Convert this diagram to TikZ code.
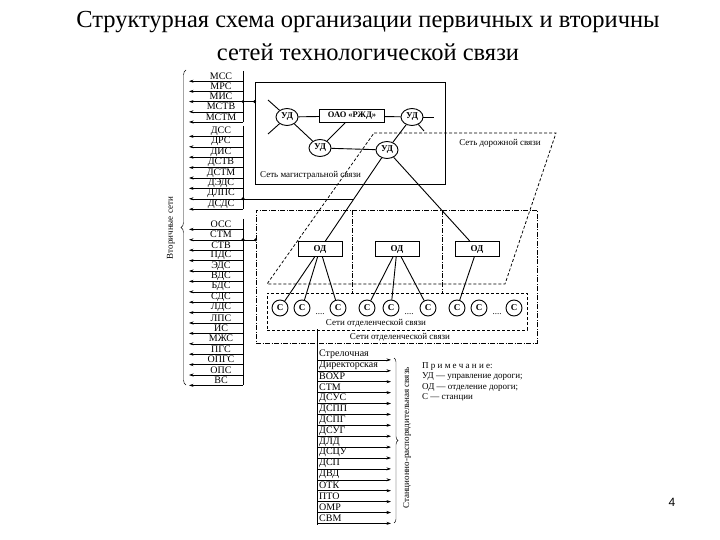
\documentclass[tikz,border=0pt]{standalone}
\usepackage{fontspec}
\setmainfont{Liberation Serif}
\newfontfamily\pgsans{Liberation Sans}
\usetikzlibrary{shapes.geometric,arrows.meta,decorations.pathreplacing,calc}
\begin{document}
\begin{tikzpicture}[x=1pt,y=-1pt,
  every node/.style={inner sep=0pt},
  thk/.style={line width=0.9pt},
  thn/.style={line width=0.55pt},
  arrl/.style={line width=0.55pt,-{Stealth[length=4.5pt,width=3pt]}},
  ud/.style={draw,ellipse,line width=0.9pt,minimum width=22pt,minimum height=17pt,font=\fontsize{9}{9}\selectfont\bfseries},
  st/.style={draw,circle,line width=0.9pt,minimum size=16pt,font=\fontsize{9}{9}\selectfont\bfseries},
  od/.style={draw,rectangle,line width=0.9pt,minimum width=44pt,minimum height=15pt,font=\fontsize{9}{9}\selectfont\bfseries},
  listtxt/.style={font=\fontsize{10}{10}\selectfont},
  lbl/.style={font=\fontsize{9}{9}\selectfont},
  dashd/.style={line width=0.75pt,dash pattern=on 3pt off 2pt},
  dashdot/.style={line width=0.75pt,dash pattern=on 5pt off 1.5pt on 1pt off 1.5pt}
]
\useasboundingbox (0,0) rectangle (720,540);

% title
\node[font=\fontsize{24.5}{24.5}\selectfont] (t1) at (368,22) {Структурная схема организации первичных и вторичны};
\node[font=\fontsize{24.5}{24.5}\selectfont] (t2) at (368,52) {сетей технологической связи};

% left lists
\foreach \lab [count=\i] in {МСС,МРС,МИС,МСТВ,МСТМ} {
  \pgfmathsetmacro\yb{71+10.2*\i}
  \node[listtxt] (ma\i) at (221,\yb-5.1) {\lab};
  \coordinate (mar\i) at (243,\yb);
  \coordinate (mal\i) at (189,\yb);
  \draw[arrl] (mar\i) -- (mal\i);
}
\draw[thn] (243,71) -- (243,122);
\foreach \lab [count=\i] in {ДСС,ДРС,ДИС,ДСТВ,ДСТМ,ДЭДС,ДЛПС,ДСДС} {
  \pgfmathsetmacro\yb{126+10.4*\i}
  \node[listtxt] (da\i) at (221,\yb-5.2) {\lab};
  \coordinate (dar\i) at (243,\yb);
  \coordinate (dal\i) at (189,\yb);
  \draw[arrl] (dar\i) -- (dal\i);
}
\draw[thn] (243,126) -- (243,209.2);
\foreach \lab [count=\i] in {ОСС,СТМ,СТВ,ПДС,ЭДС,ВДС,БДС,СДС,ЛДС,ЛПС,ИС,МЖС,ПГС,ОПГС,ОПС,ВС} {
  \pgfmathsetmacro\yb{219+10.4*\i}
  \node[listtxt] (oa\i) at (221,\yb-5.2) {\lab};
  \coordinate (oar\i) at (243,\yb);
  \coordinate (oal\i) at (189,\yb);
  \draw[arrl] (oar\i) -- (oal\i);
}
\draw[thn] (243,219) -- (243,385.4);

% left brace and label
\draw[line width=0.45pt,decorate,decoration={brace,amplitude=5pt}] (186,385) -- (186,70);
\node[lbl,rotate=90] (vtor) at (171,228) {Вторичные сети};

% magistral network
\node[draw,thk,minimum width=190pt,minimum height=102pt] (mag) at (350,133) {};
\node[lbl,anchor=west] (magl) at (260,175) {Сеть магистральной связи};
\node[ud] (ud1) at (287,117) {УД};
\node[draw,thk,minimum width=65pt,minimum height=13pt,font=\fontsize{8.5}{9}\selectfont\bfseries] (oao) at (352,116) {ОАО «РЖД»};
\node[ud] (ud2) at (412,117) {УД};
\node[ud] (ud3) at (320,148) {УД};
\node[ud] (ud4) at (387,150) {УД};
\coordinate (s1) at (268,100);
\coordinate (s2) at (268,134);
\coordinate (s3) at (434,117);
\coordinate (s4) at (424,131);
\draw[thk] (ud1) -- (oao);
\draw[thk] (oao) -- (ud2);
\draw[thk] (ud1) -- (ud3);
\draw[thk] (oao) -- (ud3);
\draw[thk] (ud3) -- (ud4);
\draw[thk] (ud2) -- (ud4);
\draw[thk] (ud1) -- (s1);
\draw[thk] (ud1) -- (s2);
\draw[thk] (ud2) -- (s3);
\draw[thk] (ud2) -- (s4);

% road network trapezoid
\coordinate (rtl) at (374,133);
\coordinate (rtr) at (556,133);
\coordinate (rbr) at (505,284);
\coordinate (rbl) at (267,284);
\draw[dashd] (rtl) -- (rtr) -- (rbr) -- (rbl) -- cycle;
\node[lbl] (rdl) at (500,143) {Сеть дорожной связи};

% otdelenie box
\node[draw,dashdot,minimum width=281pt,minimum height=133pt] (otd) at (396.5,276.5) {};
\draw[dashdot] (352,210) -- (352,293);
\draw[dashdot] (442,210) -- (442,293);
\node[draw,dashd,minimum width=260pt,minimum height=37pt] (stb) at (397,311.5) {};
\node[lbl] (stl) at (376,323) {Сети отделенческой связи};
\node[lbl] (otl) at (400,337.5) {Сети отделенческой связи};

\node[od] (od1) at (320,249) {ОД};
\node[od] (od2) at (397,249) {ОД};
\node[od] (od3) at (477,249) {ОД};
\draw[thk] (ud4) -- (od1);
\draw[thk] (ud4) -- (od3);

\node[st] (c1) at (280,308) {С};
\node[st] (c2) at (302,308) {С};
\node[st] (c3) at (338,308) {С};
\node[st] (c4) at (367,308) {С};
\node[st] (c5) at (391,308) {С};
\node[st] (c6) at (428,308) {С};
\node[st] (c7) at (457,308) {С};
\node[st] (c8) at (479,308) {С};
\node[st] (c9) at (514,308) {С};
\node[lbl] (d1) at (320,314) {....};
\node[lbl] (d2) at (409,314) {....};
\node[lbl] (d3) at (497,314) {....};
\draw[thk] (od1) -- (c1);
\draw[thk] (od1) -- (c2);
\draw[thk] (od1) -- (c3);
\draw[thk] (od2) -- (c4);
\draw[thk] (od2) -- (c5);
\draw[thk] (od2) -- (c6);
\draw[thk] (od3) -- (c7);

% connections from lists
\draw[thn] (mar3) -- (mar3 -| mag.west);
\fill (mar3) circle (1.6);
\fill (mar3 -| mag.west) circle (1.6);
\coordinate (j1) at ($(ud4)!0.495!(od1)$);
\draw[thn] (dar7) -- (dar7 -| j1);
\fill (dar7) circle (1.6);
\draw[thn] (oar2) -- (oar2 -| otd.west);
\fill (oar2) circle (1.6);
\fill (oar2 -| otd.west) circle (1.6);

% bottom station list
\draw[thn] (317,329) -- (317,525);
\foreach \lab [count=\i] in {Стрелочная,Директорская,ВОХР,СТМ,ДСУС,ДСПП,ДСПГ,ДСУГ,ДЛД,ДСЦУ,ДСП,ДВД,ОТК,ПТО,ОМР,СВМ} {
  \pgfmathsetmacro\yb{349+10.9*\i}
  \node[listtxt,anchor=west] (b\i) at (319,\yb-5.3) {\lab};
  \coordinate (bl\i) at (317,\yb);
  \coordinate (br\i) at (391,\yb);
  \draw[arrl] (bl\i) -- (br\i);
}
\draw[line width=0.45pt,decorate,decoration={brace,amplitude=4pt}] (394,358) -- (394,523);
\node[lbl,rotate=90] (stan) at (407,438) {Станционно-распорядительная связь};

% note
\node[lbl,anchor=west] (n1) at (422,367) {П р и м е ч а н и е:};
\node[lbl,anchor=west] (n2) at (422,377) {УД — управление дороги;};
\node[lbl,anchor=west] (n3) at (422,387) {ОД — отделение дороги;};
\node[lbl,anchor=west] (n4) at (422,397) {С — станции};

% page number
\node[font=\pgsans\fontsize{12}{12}\selectfont] (pg) at (672,502) {4};
\end{tikzpicture}
\end{document}
